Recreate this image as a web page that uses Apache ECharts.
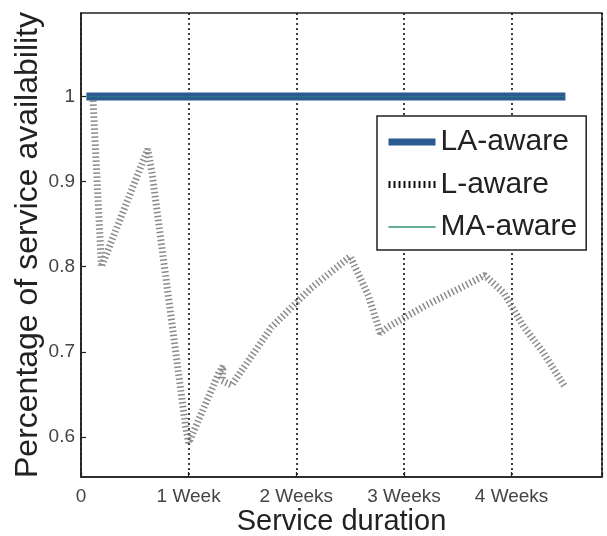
<!DOCTYPE html>
<html>
<head>
<meta charset="utf-8">
<script src="https://cdn.jsdelivr.net/npm/echarts@6/dist/echarts.min.js"></script>
<style>
  html, body { margin: 0; padding: 0; background: #fff; }
  #chart { width: 607px; height: 536px; }
</style>
</head>
<body>
<div id="chart"></div>
<script>
// ---- data ----
var xTickLabels = ['0', '1 Week', '2 Weeks', '3 Weeks', '4 Weeks'];
var yTickValues = [0.6, 0.7, 0.8, 0.9, 1];

var laAwareWeeks = [0.05, 1, 2, 3, 4, 4.5];
var laAwareVals  = [1, 1, 1, 1, 1, 1];

var maAwareWeeks = [0.05, 1, 2, 3, 4, 4.5];
var maAwareVals  = [1, 1, 1, 1, 1, 1];

var lAwareWeeks = [0.11, 0.19, 0.62, 0.66, 0.97, 1.0, 1.28, 1.32, 1.31, 1.4, 1.77, 2.13, 2.5, 2.67, 2.78, 2.85, 3.21, 3.57, 3.75, 3.93, 4.11, 4.29, 4.5];
var lAwareVals  = [1.0, 0.80, 0.938, 0.91, 0.614, 0.593, 0.675, 0.683, 0.666, 0.661, 0.729, 0.774, 0.812, 0.766, 0.722, 0.729, 0.755, 0.778, 0.79, 0.769, 0.73, 0.70, 0.658];

function pairs(xs, ys) { return xs.map(function (x, i) { return [x, ys[i]]; }); }

var FONT = '"Liberation Sans", Arial, Helvetica, sans-serif';
var chart = echarts.init(document.getElementById('chart'));
chart.setOption({
  animation: false,
  backgroundColor: '#fff',
  textStyle: { fontFamily: FONT },
  grid: {
    left: 81, right: 5, top: 13, bottom: 59,
    containLabel: false,
    outerBoundsMode: 'none',
    show: true, borderColor: '#222', borderWidth: 1.5, backgroundColor: 'transparent'
  },
  xAxis: {
    type: 'value',
    min: 0, max: 4.84, interval: 1,
    name: 'Service duration',
    nameLocation: 'middle',
    nameGap: 30,
    nameMoveOverlap: false,
    nameTextStyle: { fontFamily: FONT, fontSize: 29, color: '#222' },
    axisLine: { show: true, lineStyle: { color: '#222', width: 1.5 } },
    axisTick: { show: true, inside: true, length: 5, lineStyle: { color: '#222', width: 1.2 } },
    axisLabel: {
      fontFamily: FONT, fontSize: 19, color: '#444', margin: 10,
      formatter: function (v) {
        var r = Math.round(v);
        return (Math.abs(v - r) < 1e-6 && r >= 0 && r < xTickLabels.length) ? xTickLabels[r] : '';
      }
    },
    splitLine: { show: true, lineStyle: { color: '#111', width: 1.6, type: [2, 3] } }
  },
  yAxis: {
    type: 'value',
    min: 0.553, max: 1.098,
    name: 'Percentage of service availability',
    nameLocation: 'middle',
    nameGap: 37,
    nameMoveOverlap: false,
    nameTextStyle: { fontFamily: FONT, fontSize: 32, color: '#222' },
    axisLine: { show: true, lineStyle: { color: '#222', width: 1.5 } },
    axisTick: { show: true, inside: true, length: 5, customValues: yTickValues, lineStyle: { color: '#222', width: 1.2 } },
    axisLabel: {
      fontFamily: FONT, fontSize: 19, color: '#444', margin: 6,
      customValues: yTickValues,
      formatter: function (v) { return Math.abs(v - 1) < 1e-6 ? '1' : v.toFixed(1); }
    },
    splitLine: { show: false }
  },
  legend: {
    left: 377, top: 116,
    orient: 'vertical',
    backgroundColor: '#fff',
    borderColor: '#222', borderWidth: 1.5, borderRadius: 0,
    padding: [11, 9, 8, 8],
    itemWidth: 47, itemHeight: 14, itemGap: 12.5,
    textStyle: { fontFamily: FONT, fontSize: 30, color: '#222', lineHeight: 30 },
    data: [
      { name: 'LA-aware', itemStyle: { color: 'rgba(0,0,0,0)', borderWidth: 0 },
        lineStyle: { color: '#2c5b93', width: 7, type: 'solid', opacity: 1 } },
      { name: 'L-aware', itemStyle: { color: 'rgba(0,0,0,0)', borderWidth: 0 },
        lineStyle: { color: '#111', width: 7, type: [2, 3], opacity: 1 } },
      { name: 'MA-aware', itemStyle: { color: 'rgba(0,0,0,0)', borderWidth: 0 },
        lineStyle: { color: '#2f8f74', width: 1.5, type: 'solid', opacity: 1 } }
    ]
  },
  series: [
    {
      name: 'LA-aware', type: 'line', symbol: 'none', z: 3,
      data: pairs(laAwareWeeks, laAwareVals),
      lineStyle: { color: '#2c5b93', width: 8, cap: 'butt' },
      itemStyle: { color: '#2c5b93' }
    },
    {
      name: 'L-aware', type: 'line', symbol: 'none', z: 2,
      data: pairs(lAwareWeeks, lAwareVals),
      lineStyle: { color: '#6e6e6e', width: 7, type: [1.5, 2.5], opacity: 0.8 },
      itemStyle: { color: '#6e6e6e' }
    },
    {
      name: 'MA-aware', type: 'line', symbol: 'none', z: 4,
      data: pairs(maAwareWeeks, maAwareVals),
      lineStyle: { color: '#2f8f74', width: 1, opacity: 0.5 },
      itemStyle: { color: '#2f8f74' }
    }
  ]
});
</script>
</body>
</html>
